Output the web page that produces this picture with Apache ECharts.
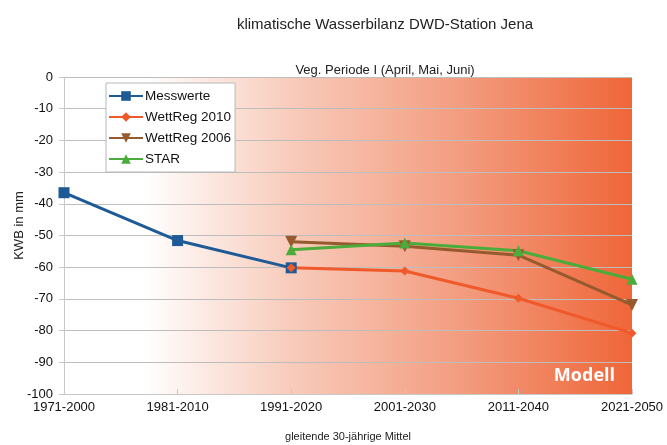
<!DOCTYPE html>
<html>
<head>
<meta charset="utf-8">
<script src="https://cdn.jsdelivr.net/npm/echarts@6/dist/echarts.min.js"></script>
<style>
    html, body { margin: 0; padding: 0; background: #fff; }
    #chart { width: 667px; height: 445px; }
</style>
</head>
<body>
<div id="chart"></div>
<script>
// 30-year moving periods
var periods = ['1971-2000', '1981-2010', '1991-2020', '2001-2030', '2011-2040', '2021-2050'];

// KWB in mm
var messwerte = [-36.5, -51.6, -60.2, null, null, null];
var wettreg2010 = [null, null, -60.2, -61.2, -69.8, -80.8];
var wettreg2006 = [null, null, -52, -53.4, -56.2, -71.9];
var star = [null, null, -54.5, -52.4, -54.8, -63.8];

var yTicks = [0, -10, -20, -30, -40, -50, -60, -70, -80, -90, -100];

var font = '"Liberation Sans", Arial, sans-serif';

var chart = echarts.init(document.getElementById('chart'), null, { renderer: 'canvas' });

function line(name, data, color, symbol, size) {
    return {
        name: name,
        type: 'line',
        data: data,
        connectNulls: false,
        symbol: symbol,
        symbolSize: size,
        lineStyle: { color: color, width: 3 },
        itemStyle: { color: color },
        emphasis: { disabled: true }
    };
}

chart.setOption({
    animation: false,
    title: [
        {
            text: 'klimatische Wasserbilanz DWD-Station Jena',
            left: 380, top: 12, textAlign: 'center',
            textStyle: { fontFamily: font, fontSize: 15, fontWeight: 'normal', color: '#222' }
        },
        {
            text: 'Veg. Periode I (April, Mai, Juni)',
            left: 380, top: 59, textAlign: 'center',
            textStyle: { fontFamily: font, fontSize: 13, fontWeight: 'normal', color: '#222' }
        }
    ],
    grid: {
        left: 64, right: 35, top: 77, bottom: 51,
        outerBoundsMode: 'none',
        show: true,
        borderWidth: 0,
        backgroundColor: new echarts.graphic.LinearGradient(0, 0, 1, 0, [
            { offset: 0, color: '#ffffff' },
            { offset: 0.14, color: '#ffffff' },
            { offset: 0.4, color: '#f8cbbb' },
            { offset: 0.7, color: '#f39c7f' },
            { offset: 1, color: '#ef6638' }
        ])
    },
    legend: {
        orient: 'vertical',
        left: 106, top: 83,
        padding: [6, 4, 6, 2],
        backgroundColor: '#ffffff',
        borderColor: '#b8b8b8',
        borderWidth: 1,
        itemWidth: 34, itemHeight: 12,
        itemGap: 7,
        textStyle: { fontFamily: font, fontSize: 13.5, color: '#111', padding: [0, 0, 0, -3] },
        data: ['Messwerte', 'WettReg 2010', 'WettReg 2006', 'STAR']
    },
    xAxis: {
        type: 'category',
        data: periods,
        boundaryGap: false,
        axisLine: { onZero: false, lineStyle: { color: '#c8c8c8' } },
        axisTick: { show: true, inside: true, length: 5, lineStyle: { color: '#c8c8c8' } },
        axisLabel: {
            fontFamily: font, fontSize: 13, color: '#111', margin: 7,
            interval: 0, showMinLabel: true, showMaxLabel: true
        },
        name: 'gleitende 30-jährige Mittel',
        nameLocation: 'middle',
        nameGap: 37,
        nameTextStyle: { fontFamily: font, fontSize: 11, color: '#222' }
    },
    yAxis: {
        type: 'value',
        min: -100, max: 0, interval: 10,
        axisLine: { show: true, lineStyle: { color: '#c8c8c8' } },
        axisTick: { show: true, length: 5, lineStyle: { color: '#c8c8c8' } },
        axisLabel: {
            fontFamily: font, fontSize: 13, color: '#111', margin: 11,
            formatter: function (v) { return yTicks.indexOf(v) >= 0 ? String(v) : ''; }
        },
        splitLine: { lineStyle: { color: '#bdbdbd', width: 1 } },
        name: 'KWB in mm',
        nameLocation: 'middle',
        nameGap: 38,
        nameMoveOverlap: false,
        nameRotate: 90,
        nameTextStyle: { fontFamily: font, fontSize: 13, color: '#222', padding: [0, 0, 0, 20] }
    },
    graphic: [
        {
            type: 'text',
            right: 52, bottom: 60,
            style: {
                text: 'Modell',
                fill: '#ffffff',
                font: 'bold 18px "Open Sans", sans-serif'
            }
        }
    ],
    series: [
        line('Messwerte', messwerte, '#1d5a96', 'rect', 11),
        line('WettReg 2010', wettreg2010, '#f0592a', 'diamond', 9),
        line('WettReg 2006', wettreg2006, '#965a2e', 'path://M0,0 L10,0 L5,10 Z', 12),
        line('STAR', star, '#4aac3a', 'triangle', 11)
    ]
});
</script>
</body>
</html>
